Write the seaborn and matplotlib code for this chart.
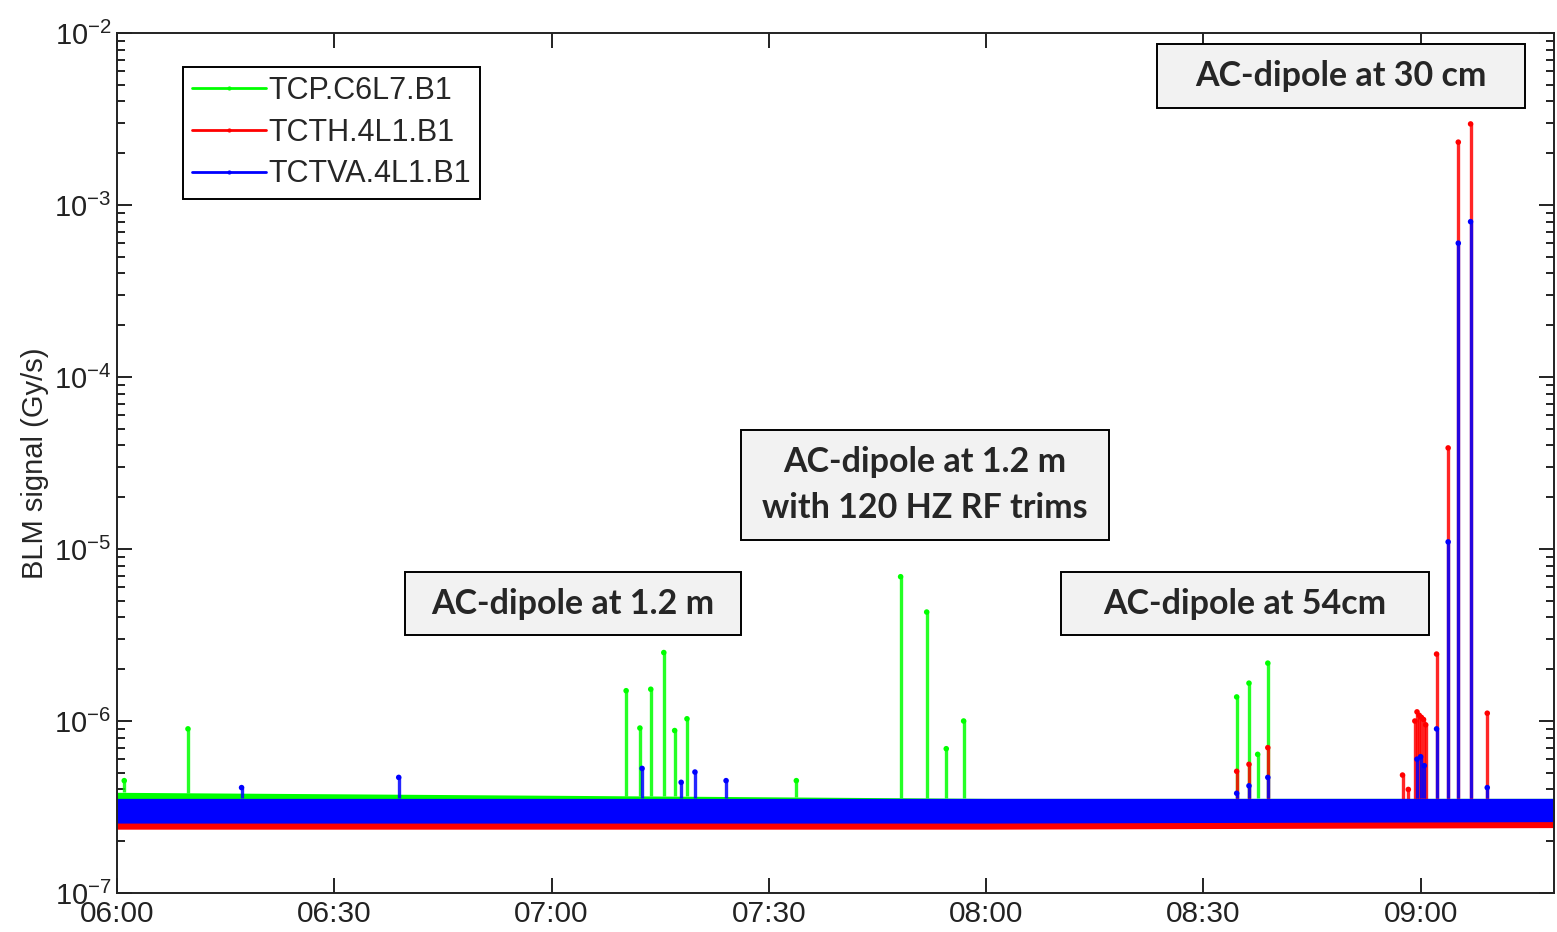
import numpy as np
import pandas as pd
import seaborn as sns
import matplotlib.pyplot as plt
from matplotlib.lines import Line2D
from matplotlib.patches import Rectangle

# time axis: minutes after 06:00
tick_minutes = [0, 30, 60, 90, 120, 150, 180]
tick_labels = ["06:00", "06:30", "07:00", "07:30", "08:00", "08:30", "09:00"]
t_end = 198.4

series = ["TCP.C6L7.B1", "TCTH.4L1.B1", "TCTVA.4L1.B1"]
colors = {"TCP.C6L7.B1": "#00ff00", "TCTH.4L1.B1": "#ff0000", "TCTVA.4L1.B1": "#0000ff"}

# noise floor envelope
band_t = [0, 60, 120, 198.4]
green_lo = [3.2e-7, 3.1e-7, 3.0e-7, 3.0e-7]
green_hi = [3.85e-7, 3.7e-7, 3.55e-7, 3.55e-7]
red_lo = [2.35e-7, 2.35e-7, 2.35e-7, 2.4e-7]
red_hi = [3.1e-7, 3.1e-7, 3.1e-7, 3.1e-7]
blue_lo = [2.55e-7, 2.55e-7, 2.55e-7, 2.6e-7]
blue_hi = [3.55e-7, 3.55e-7, 3.55e-7, 3.55e-7]

# spikes: time (min), peak value (Gy/s)
green_spike_t = [1.0, 9.8, 70.3, 72.2, 73.7, 75.5, 77.0, 78.7, 93.8, 108.2, 111.8, 114.5, 116.9,
                 154.6, 156.3, 157.5, 158.9]
green_spike_v = [4.5e-7, 9.0e-7, 1.5e-6, 9.1e-7, 1.53e-6, 2.5e-6, 8.8e-7, 1.03e-6, 4.5e-7, 6.9e-6,
                 4.3e-6, 6.9e-7, 1.0e-6, 1.38e-6, 1.66e-6, 6.4e-7, 2.17e-6]
red_spike_t = [154.6, 156.3, 158.9, 177.5, 178.3, 179.2, 179.5, 179.8, 180.1, 180.4, 180.7,
               182.2, 183.8, 185.2, 186.9, 189.2]
red_spike_v = [5.1e-7, 5.6e-7, 7.0e-7, 4.85e-7, 4.0e-7, 1.0e-6, 1.13e-6, 1.08e-6, 1.05e-6, 1.02e-6,
               9.5e-7, 2.45e-6, 3.87e-5, 2.32e-3, 2.96e-3, 1.11e-6]
blue_spike_t = [17.2, 38.9, 72.5, 77.9, 79.8, 84.1, 154.6, 156.3, 158.9, 179.5, 180.0, 180.5,
                182.2, 183.8, 185.2, 186.9, 189.2]
blue_spike_v = [4.1e-7, 4.7e-7, 5.3e-7, 4.4e-7, 5.05e-7, 4.5e-7, 3.8e-7, 4.2e-7, 4.7e-7, 6.0e-7,
                6.2e-7, 5.5e-7, 9.0e-7, 1.1e-5, 6.0e-4, 8.0e-4, 4.1e-7]

bands = {
    "TCP.C6L7.B1": (green_lo, green_hi),
    "TCTH.4L1.B1": (red_lo, red_hi),
    "TCTVA.4L1.B1": (blue_lo, blue_hi),
}
spikes = pd.concat([
    pd.DataFrame({"t": green_spike_t, "v": green_spike_v, "name": series[0]}),
    pd.DataFrame({"t": red_spike_t, "v": red_spike_v, "name": series[1]}),
    pd.DataFrame({"t": blue_spike_t, "v": blue_spike_v, "name": series[2]}),
])

sns.set_style("ticks")
plt.rcParams["font.family"] = ["Liberation Sans", "DejaVu Sans"]
plt.rcParams["mathtext.fontset"] = "custom"
plt.rcParams["mathtext.rm"] = "Liberation Sans"

fig = plt.figure(figsize=(15.57, 9.32), dpi=100)
ax = fig.add_axes([117 / 1557, 1 - 893 / 932, 1 - 117 / 1557 - 0.002, (893 - 33) / 932])

for name in series:
    lo, hi = bands[name]
    c = colors[name]
    ax.fill_between(band_t, lo, hi, color=c, lw=0, zorder=2)
    sub = spikes[spikes["name"] == name]
    base = np.interp(sub["t"], band_t, hi)
    ax.vlines(sub["t"], base, sub["v"], color=c, lw=2.4, alpha=0.85, zorder=2)
    sns.scatterplot(data=sub, x="t", y="v", color=c, s=16, edgecolor="none", ax=ax,
                    legend=False, zorder=3)

ax.set_yscale("log")
ax.set_ylim(1e-7, 1e-2)
ax.set_xlim(0, t_end)
ax.set_xticks(tick_minutes)
ax.set_xticklabels(tick_labels)
ax.set_xlabel("")
ax.set_ylabel("BLM signal (Gy/s)", fontsize=21, labelpad=4)

ax.tick_params(axis="both", which="both", direction="in", top=True, right=True,
               labelsize=21.5, colors="#222222", width=1.4)
ax.tick_params(axis="both", which="major", length=11)
ax.tick_params(axis="both", which="minor", length=6)
ax.tick_params(axis="x", which="major", pad=5)
ax.tick_params(axis="y", which="major", labelsize=21, pad=4)
for sp in ax.spines.values():
    sp.set_linewidth(1.4)
    sp.set_color("#222222")

handles = [Line2D([], [], color=colors[n], lw=2, marker=".", markersize=4) for n in series]
leg = ax.legend(handles, series, loc="upper left", bbox_to_anchor=(183 / 1557, 1 - 67 / 932),
                bbox_transform=fig.transFigure, borderaxespad=0, fontsize=22, handlelength=2.4,
                handletextpad=0.1, labelspacing=0.38, borderpad=0.3, fancybox=False,
                framealpha=1, edgecolor="black")
leg.get_frame().set_linewidth(1.4)

boxes = [
    (1157, 44, 1525, 108, "AC-dipole at 30 cm"),
    (741, 430, 1109, 540, "AC-dipole at 1.2 m\nwith 120 HZ RF trims"),
    (405, 572, 741, 635, "AC-dipole at 1.2 m"),
    (1061, 572, 1429, 635, "AC-dipole at 54cm"),
]
for x0, y0, x1, y1, txt in boxes:
    fig.patches.append(Rectangle((x0 / 1557, 1 - y1 / 932), (x1 - x0) / 1557, (y1 - y0) / 932,
                                 transform=fig.transFigure, facecolor="#f2f2f2",
                                 edgecolor="black", lw=1.4, zorder=5))
    fig.text((x0 + x1) / 2 / 1557, 1 - (y0 + y1) / 2 / 932, txt, ha="center", va="center",
             fontsize=24.5, fontweight="bold", family=["Lato", "DejaVu Sans"],
             linespacing=1.5, zorder=6)

plt.savefig("out.png", dpi=100)
